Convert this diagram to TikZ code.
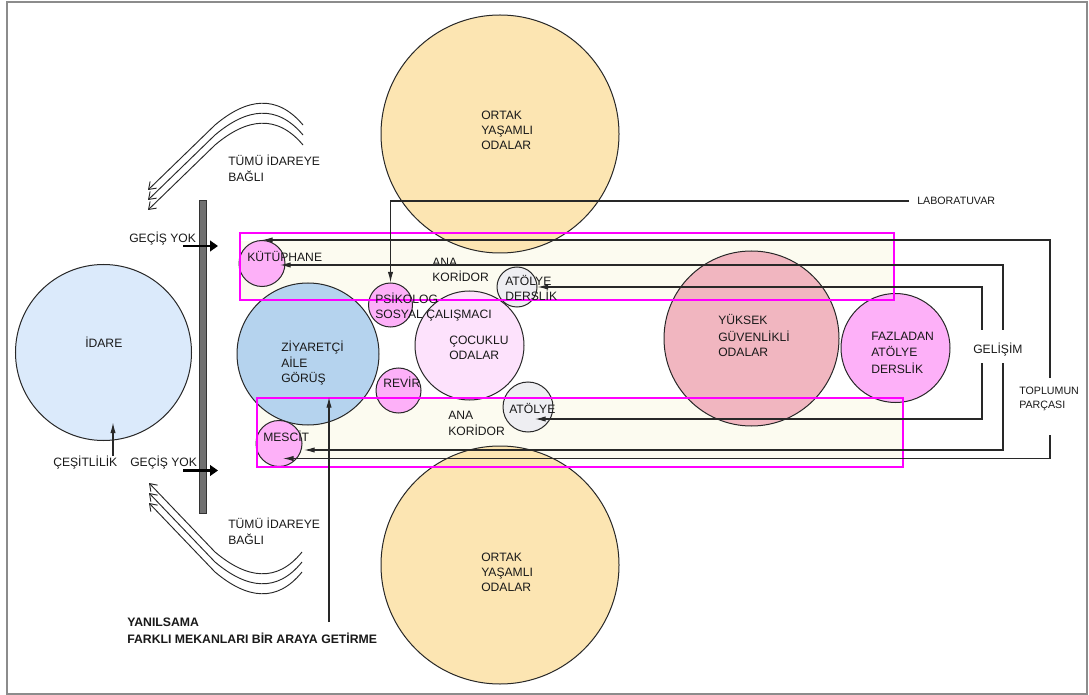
\documentclass[tikz,border=0pt]{standalone}
\usepackage{fontspec}
\setmainfont{Liberation Sans}
\usetikzlibrary{arrows.meta,calc}
\definecolor{ortakC}{RGB}{252,229,178}
\definecolor{idareC}{RGB}{219,234,251}
\definecolor{ziyC}{RGB}{181,211,238}
\definecolor{cocukC}{RGB}{253,226,252}
\definecolor{pinkC}{RGB}{253,176,248}
\definecolor{atolC}{RGB}{238,238,242}
\definecolor{yukC}{RGB}{241,182,192}
\definecolor{creamC}{RGB}{252,251,240}
\definecolor{magC}{RGB}{255,0,255}
\definecolor{lineC}{RGB}{40,40,40}
\definecolor{txtC}{RGB}{25,25,25}
\definecolor{frameC}{RGB}{140,140,140}
\definecolor{barC}{RGB}{112,112,112}
\begin{document}
\begin{tikzpicture}[x=0.75pt,y=-0.75pt,
  circ/.style={circle,draw=lineC,line width=0.75pt,inner sep=0pt,minimum size=#1},
  lbl/.style={font=\fontsize{9.1}{11}\selectfont,text=txtC,anchor=base west,inner sep=0pt},
  lbls/.style={font=\fontsize{8}{9}\selectfont,text=txtC,anchor=base west,inner sep=0pt},
  lblb/.style={font=\fontsize{9.2}{11}\selectfont\bfseries,text=txtC,anchor=base west,inner sep=0pt},
  conn/.style={draw=lineC,line width=0.8pt,-{Latex[length=8pt,width=4pt]}},
  mag/.style={draw=magC,line width=0.9pt},
  thickarr/.style={draw=black,line width=1.6pt,-{Triangle[length=6pt,width=8pt]}},
  curv/.style={draw=lineC,line width=0.7pt,-{Straight Barb[length=5pt,width=7pt]}}
]
\useasboundingbox (0,0) rectangle (1089,695);
\fill[white] (0,0) rectangle (1089,695);
\draw[frameC,line width=1pt] (7,2) rectangle (1087,694);

% corridor fills
\fill[creamC] (240,241) rectangle (894,300);
\fill[creamC] (257,398) rectangle (903,459);

% big circles
\node[circ=178.5pt,fill=ortakC] (ortakT) at (500,134) {};
\node[circ=178.5pt,fill=ortakC] (ortakB) at (500,565) {};
\node[circ=132pt,fill=idareC] (idare) at (103.5,352.5) {};
\node[circ=106.5pt,fill=ziyC] (ziy) at (308,354) {};
\node[circ=81.75pt,fill=cocukC] (cocuk) at (469.5,345.5) {};
\node[circ=131.25pt,fill=yukC] (yuksek) at (751.5,338.5) {};
\node[circ=81.75pt,fill=pinkC] (fazla) at (895.5,348) {};
% small circles
\node[circ=34.5pt,fill=pinkC] (kut) at (262,263.5) {};
\node[circ=33pt,fill=pinkC] (psi) at (390.5,305) {};
\node[circ=33.75pt,fill=pinkC] (revir) at (398.5,390.5) {};
\node[circ=34.5pt,fill=pinkC] (mescit) at (279,443.5) {};
\node[circ=30pt,fill=atolC] (atd) at (517,287) {};
\node[circ=37.5pt,fill=atolC] (atl) at (528,407) {};

% corridor outlines
\draw[mag] (240,233) rectangle (894,300);
\draw[mag] (257,398) rectangle (903,467);

% wall bar
\node[draw=black!80,fill=barC,line width=0.6pt,minimum width=5.25pt,minimum height=234.75pt,inner sep=0pt] (bar) at (202.5,356.5) {};

% labels
\node[lbl] (oT1) at (481,119.3) {ORTAK};
\node[lbl] (oT2) at (481,134.3) {YAŞAMLI};
\node[lbl] (oT3) at (481,149.3) {ODALAR};
\node[lbl] (oB1) at (481,561.3) {ORTAK};
\node[lbl] (oB2) at (481,576.3) {YAŞAMLI};
\node[lbl] (oB3) at (481,591.3) {ODALAR};
\node[lbl] (idt) at (85,347.3) {İDARE};
\node[lbl] (cesit) at (53,466.3) {ÇEŞİTLİLİK};
\node[lbl] (gecU) at (129,242.3) {GEÇİŞ YOK};
\node[lbl] (gecL) at (130,466.3) {GEÇİŞ YOK};
\node[lbl] (tumU1) at (228,165.3) {TÜMÜ İDAREYE};
\node[lbl] (tumU2) at (228,181.3) {BAĞLI};
\node[lbl] (tumL1) at (228,528.3) {TÜMÜ İDAREYE};
\node[lbl] (tumL2) at (228,544.3) {BAĞLI};
\node[lbl] (kutt) at (247,261.3) {KÜTÜPHANE};
\node[lbl] (psit1) at (375,303.3) {PSİKOLOG};
\node[lbl] (psit2) at (375,318.3) {SOSYAL ÇALIŞMACI};
\node[lbl] (anaU1) at (432,266.3) {ANA};
\node[lbl] (anaU2) at (432,281.3) {KORİDOR};
\node[lbl] (atdt1) at (505,285.3) {ATÖLYE};
\node[lbl] (atdt2) at (505,300.3) {DERSLİK};
\node[lbl] (ziyt1) at (281,351.3) {ZİYARETÇİ};
\node[lbl] (ziyt2) at (281,367.3) {AİLE};
\node[lbl] (ziyt3) at (281,382.3) {GÖRÜŞ};
\node[lbl] (coct1) at (449,344.3) {ÇOCUKLU};
\node[lbl] (coct2) at (449,359.3) {ODALAR};
\node[lbl] (revt) at (383,387.3) {REVİR};
\node[lbl] (anaL1) at (448,419.3) {ANA};
\node[lbl] (anaL2) at (448,435.3) {KORİDOR};
\node[lbl] (atlt) at (509,413.3) {ATÖLYE};
\node[lbl] (mest) at (263,441.3) {MESCİT};
\node[lbl] (yukt1) at (718,324.3) {YÜKSEK};
\node[lbl] (yukt2) at (718,341.3) {GÜVENLİKLİ};
\node[lbl] (yukt3) at (718,356.3) {ODALAR};
\node[lbl] (fazt1) at (871,340.3) {FAZLADAN};
\node[lbl] (fazt2) at (871,356.3) {ATÖLYE};
\node[lbl] (fazt3) at (871,373.3) {DERSLİK};
\node[lbl] (gel) at (973,353.3) {GELİŞİM};
\node[lbls] (top1) at (1019,394.8) {TOPLUMUN};
\node[lbls] (top2) at (1019,408.8) {PARÇASI};
\node[lbls,anchor=west] (lab) at (917,201) {LABORATUVAR};
\node[lblb] (yan1t) at (127,626.3) {YANILSAMA};
\node[lblb] (yan2t) at (127,643.3) {FARKLI MEKANLARI BİR ARAYA GETİRME};

% connector free ends
\coordinate (a1) at (1050,378);
\coordinate (a2) at (1050,435);
\coordinate (b1) at (1003,330);
\coordinate (b2) at (1003,363);
\coordinate (c1) at (982,330);
\coordinate (c2) at (982,363);
\coordinate (ces1) at (113,456);
\coordinate (yan1) at (329,622);
\coordinate (gU1) at (183,246);
\coordinate (gU2) at (218,246);
\coordinate (gL1) at (183,470.5);
\coordinate (gL2) at (218,470.5);

% connectors
\draw[conn] ([xshift=-6pt]lab.west) -| (psi.north);
\draw[conn] (a1) |- (kut.north);
\draw[conn] (a2) |- ($(mescit.center)+(4,15)$);
\draw[conn] (b1) |- ($(kut.center)+(18,1.5)$);
\draw[conn] (b2) |- ($(mescit.center)+(25,6.5)$);
\draw[conn] (c1) |- (atd.east);
\draw[conn] (c2) |- ($(atl.center)+(7,12)$);
\draw[conn] (ces1) -- ($(idare.center)+(9.5,70)$);
\draw[conn] (yan1) -- ($(ziy.center)+(21,43)$);
\draw[thickarr] (gU1) -- (gU2);
\draw[thickarr] (gL1) -- (gL2);

% curved arrows
\foreach \d in {0,10,20}{
  \draw[curv,shift={(0,\d)}] (303,125) .. controls (277,94) and (247,98) .. (215,125) -- (148,190);
  \draw[curv,shift={(0,\d)}] (302,552) .. controls (277,583) and (247,579) .. (215,552) -- (149,483);
}
\end{tikzpicture}
\end{document}
